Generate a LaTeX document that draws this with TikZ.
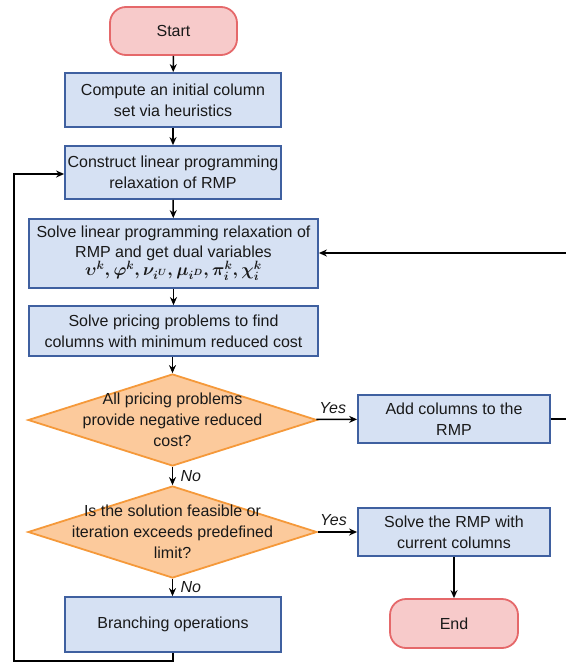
\documentclass[tikz,border=0pt]{standalone}
\usepackage{fontspec}
\setmainfont{Liberation Sans}
\usetikzlibrary{shapes.geometric,arrows.meta}
\definecolor{boxfill}{HTML}{D6E1F3}
\definecolor{boxline}{HTML}{3F60A0}
\definecolor{dfill}{HTML}{FCCA9C}
\definecolor{dline}{HTML}{F5993A}
\definecolor{tfill}{HTML}{F7CACA}
\definecolor{tline}{HTML}{E5686A}
\tikzset{
  every node/.style={font=\fontsize{16}{21}\selectfont, text=black!90},
  procbox/.style={draw=boxline, fill=boxfill, line width=1.8pt, align=center, inner sep=0pt},
  termbox/.style={draw=tline, fill=tfill, line width=1.8pt, rounded corners=16pt, inner sep=0pt},
  decbox/.style={diamond, draw=dline, fill=dfill, line width=1.8pt, inner sep=0pt},
  conn/.style={line width=1.5pt, -{Stealth[length=8pt,width=7pt]}},
  plain/.style={line width=1.5pt},
  lab/.style={font=\fontsize{16}{18}\selectfont\itshape}
}
\begin{document}
\begin{tikzpicture}[x=1pt,y=-1pt]
\useasboundingbox (0,0) rectangle (565,664);
\node[termbox, minimum width=127pt, minimum height=48pt] (start) at (173.5,31) {Start};
\node[procbox, minimum width=216pt, minimum height=54pt] (b1) at (173,100) {Compute an initial column\\set via heuristics};
\node[procbox, minimum width=216pt, minimum height=53pt] (b2) at (173,172.5) {Construct linear programming\\relaxation of RMP};
\node[procbox, minimum width=289pt, minimum height=69pt] (b3) at (173.5,253.5) {Solve linear programming relaxation of\\[-1pt]RMP and get dual variables\\[-3pt]{\fontsize{18}{20}\selectfont\boldmath$\upsilon^k, \varphi^k, \nu_{i^U}, \mu_{i^D}, \pi_i^k, \chi_i^k$}};
\node[procbox, minimum width=289pt, minimum height=50pt] (b4) at (173.5,331) {Solve pricing problems to find\\columns with minimum reduced cost};
\node[decbox, minimum width=289pt, minimum height=92pt] (d1) at (172.5,420) {};
\node[align=center] (d1t) at (d1.center) {All pricing problems\\provide negative reduced\\cost?};
\node[procbox, minimum width=192pt, minimum height=48pt] (add) at (454,419) {Add columns to the\\RMP};
\node[decbox, minimum width=289pt, minimum height=92pt] (d2) at (172.5,532) {};
\node[align=center] (d2t) at (d2.center) {Is the solution feasible or\\iteration exceeds predefined\\limit?};
\node[procbox, minimum width=192pt, minimum height=48pt] (solve) at (454,532) {Solve the RMP with\\current columns};
\node[procbox, minimum width=216pt, minimum height=55pt] (br) at (173,624.5) {Branching operations};
\node[termbox, minimum width=128pt, minimum height=49pt] (end) at (454,623.5) {End};

\draw[conn] (start) -- (b1);
\draw[conn] (b1) -- (b2);
\draw[conn] (b2) -- (b3);
\draw[conn] (b3) -- (b4);
\draw[conn] (b4.south -| d1.north) -- (d1.north);
\draw[conn] (d1) -- node[lab, above, xshift=-4pt, yshift=2pt] (yes1) {Yes} (add);
\draw[conn] (d1) -- node[lab, right, xshift=4pt] (no1) {No} (d2);
\draw[conn] (d2) -- node[lab, above, xshift=-4pt, yshift=2pt] (yes2) {Yes} (solve);
\draw[conn] (d2.south) -- node[lab, right, xshift=4pt] (no2) {No} (br.north -| d2.south);
\draw[conn] (solve) -- (end);

\coordinate (rA) at (566,419);
\coordinate (rB) at (566,253);
\draw[plain] (add.east) -- (rA);
\draw[conn] (rB) -- (b3.east |- rB);

\coordinate (l1) at (173,661);
\coordinate (l2) at (14,661);
\coordinate (l3) at (14,174);
\draw[conn] (br.south) -- (l1) -- (l2) -- (l3) -- (b2.west |- l3);
\end{tikzpicture}
\end{document}
